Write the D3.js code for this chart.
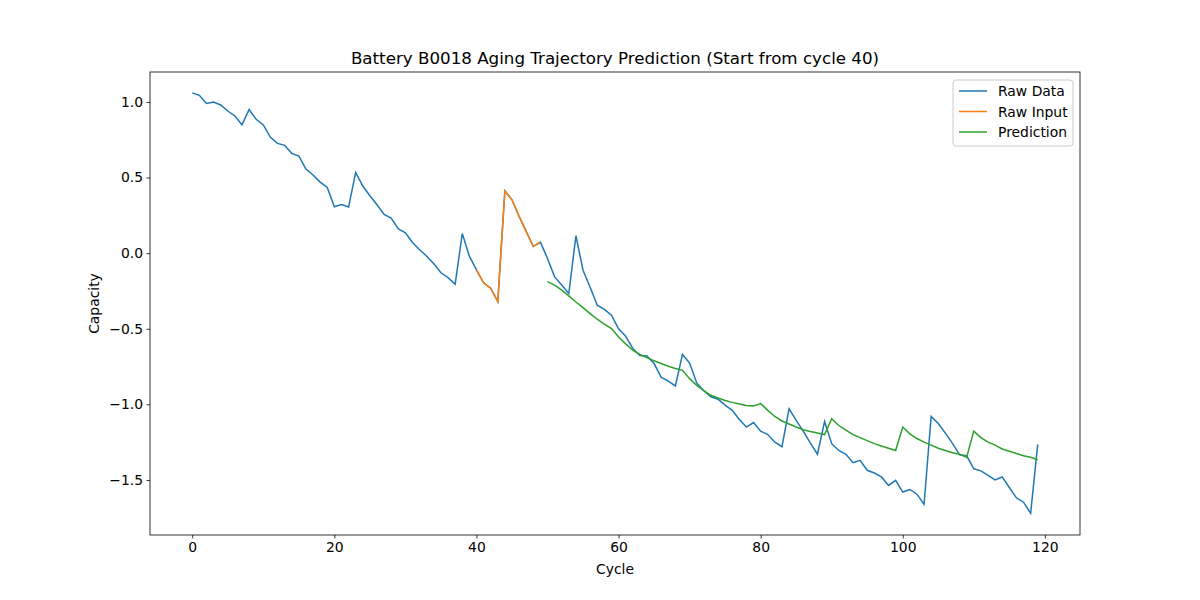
<!DOCTYPE html>
<html>
<head>
<meta charset="utf-8">
<script src="https://cdn.jsdelivr.net/npm/d3@7"></script>
<style>
  body { margin: 0; background: #fff; }
  svg text { font-family: "DejaVu Sans", sans-serif; }
</style>
</head>
<body>
<svg id="chart" width="1200" height="600"></svg>
<script>
// raw capacity (normalised), cycles 0..119
var rawData = [1.06, 1.044, 0.99, 1.00, 0.98, 0.94, 0.907, 0.848, 0.95, 0.885,
  0.848, 0.766, 0.726, 0.713, 0.66, 0.642, 0.556, 0.517, 0.47, 0.435,
  0.307, 0.322, 0.305, 0.534, 0.444, 0.38, 0.32, 0.256, 0.232, 0.16,
  0.134, 0.07, 0.022, -0.02, -0.07, -0.13, -0.162, -0.206, 0.13, -0.02,
  -0.11, -0.196, -0.232, -0.32, 0.413, 0.353, 0.243, 0.144, 0.044, 0.073,
  -0.035, -0.157, -0.21, -0.267, 0.115, -0.113, -0.225, -0.344, -0.372, -0.41,
  -0.5, -0.55, -0.63, -0.677, -0.68, -0.73, -0.82, -0.847, -0.878, -0.67,
  -0.727, -0.858, -0.91, -0.95, -0.966, -1.005, -1.04, -1.1, -1.15, -1.12,
  -1.177, -1.2, -1.25, -1.28, -1.029, -1.106, -1.177, -1.256, -1.33, -1.113,
  -1.26, -1.305, -1.33, -1.386, -1.37, -1.436, -1.454, -1.48, -1.536, -1.503,
  -1.58, -1.563, -1.594, -1.662, -1.08, -1.127, -1.19, -1.258, -1.334, -1.34,
  -1.426, -1.44, -1.47, -1.5, -1.48, -1.55, -1.618, -1.647, -1.72, -1.265];
var inputStart = 40, inputEnd = 49;
// prediction, cycles 50..119
var predStart = 50;
var prediction = [-0.188, -0.212, -0.245, -0.283, -0.323, -0.36, -0.4, -0.437, -0.47, -0.499,
  -0.554, -0.6, -0.642, -0.67, -0.69, -0.712, -0.73, -0.748, -0.763, -0.775,
  -0.83, -0.874, -0.91, -0.94, -0.958, -0.974, -0.987, -0.998, -1.007, -1.01,
  -0.995, -1.04, -1.08, -1.11, -1.13, -1.15, -1.168, -1.18, -1.19, -1.2,
  -1.095, -1.14, -1.17, -1.2, -1.22, -1.24, -1.26, -1.275, -1.29, -1.305,
  -1.15, -1.195, -1.226, -1.25, -1.27, -1.29, -1.305, -1.32, -1.33, -1.35,
  -1.177, -1.22, -1.25, -1.27, -1.295, -1.31, -1.325, -1.34, -1.35, -1.366];
var xTicks = [0, 20, 40, 60, 80, 100, 120];
var yTicks = [1.0, 0.5, 0.0, -0.5, -1.0, -1.5];
var seriesNames = ["Raw Data", "Raw Input", "Prediction"];
var colors = ["#1f77b4", "#ff7f0e", "#2ca02c"];

// plot box (window.top is reserved, so use other names)
var pLeft = 150, pRight = 1080, pTop = 72, pBottom = 535;
var svg = d3.select("#chart");
var x = d3.scaleLinear().domain([-5.95, 124.95]).range([pLeft, pRight]);
var y = d3.scaleLinear().domain([-1.864, 1.198]).range([pBottom, pTop]);

var rawPts = rawData.map(function (v, i) { return [i, v]; });
var inputPts = rawPts.slice(inputStart, inputEnd + 1);
var predPts = prediction.map(function (v, i) { return [predStart + i, v]; });

var line = d3.line().x(function (d) { return x(d[0]); }).y(function (d) { return y(d[1]); });
[rawPts, inputPts, predPts].forEach(function (pts, k) {
  svg.append("path").datum(pts).attr("d", line)
    .attr("fill", "none").attr("stroke", colors[k]).attr("stroke-width", 1.5);
});

// axes
var xAxis = svg.append("g").attr("transform", "translate(0," + pBottom + ")")
  .call(d3.axisBottom(x).tickValues(xTicks).tickSize(3.5).tickPadding(3.5));
var yAxis = svg.append("g").attr("transform", "translate(" + pLeft + ",0)")
  .call(d3.axisLeft(y).tickValues(yTicks).tickSize(3.5).tickPadding(3.5)
    .tickFormat(function (d) { return d3.format(".1f")(d).replace("-", "\u2212"); }));
[xAxis, yAxis].forEach(function (g) {
  g.select(".domain").remove();
  g.selectAll("text").attr("font-size", 13.9).attr("fill", "#000")
    .style("font-family", "'DejaVu Sans', sans-serif");
  g.selectAll("line").attr("stroke", "#000").attr("stroke-width", 0.8);
});
svg.append("rect").attr("x", pLeft).attr("y", pTop).attr("width", pRight - pLeft).attr("height", pBottom - pTop)
  .attr("fill", "none").attr("stroke", "#000").attr("stroke-width", 0.8);

svg.append("text").attr("x", (pLeft + pRight) / 2).attr("y", 64).attr("text-anchor", "middle")
  .attr("font-size", 16.7).text("Battery B0018 Aging Trajectory Prediction (Start from cycle 40)");
svg.append("text").attr("x", (pLeft + pRight) / 2).attr("y", 574).attr("text-anchor", "middle")
  .attr("font-size", 13.9).text("Cycle");
svg.append("text").attr("transform", "translate(99," + (pTop + pBottom) / 2 + ") rotate(-90)")
  .attr("text-anchor", "middle").attr("font-size", 13.9).text("Capacity");

// legend
var lg = svg.append("g").attr("transform", "translate(953,80)");
lg.append("rect").attr("width", 120).attr("height", 66).attr("rx", 3)
  .attr("fill", "#fff").attr("fill-opacity", 0.8).attr("stroke", "#ccc");
seriesNames.forEach(function (name, k) {
  var yy = 11 + k * 20.5;
  lg.append("line").attr("x1", 6).attr("x2", 34).attr("y1", yy).attr("y2", yy)
    .attr("stroke", colors[k]).attr("stroke-width", 1.5);
  lg.append("text").attr("x", 45).attr("y", yy + 5).attr("font-size", 13.9).text(name);
});
</script>
</body>
</html>
